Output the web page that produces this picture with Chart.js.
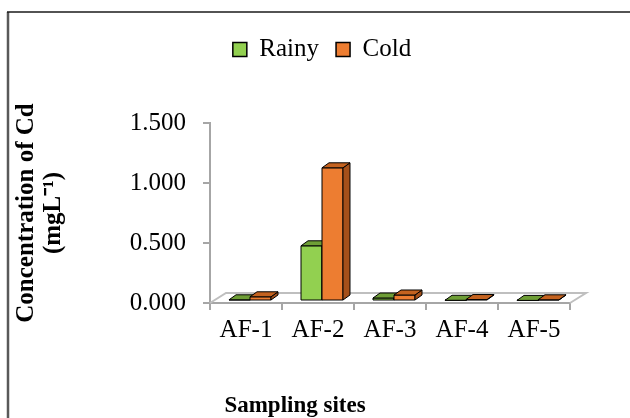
<!DOCTYPE html>
<html>
<head>
<meta charset="utf-8">
<script src="https://cdn.jsdelivr.net/npm/chart.js@4"></script>
<style>
  html, body { margin: 0; padding: 0; background: #fff; }
</style>
</head>
<body>
<canvas id="cdChart" width="630" height="418"></canvas>
<script>
const sites = ['AF-1', 'AF-2', 'AF-3', 'AF-4', 'AF-5'];
const rainy = [0.010, 0.460, 0.025, 0.006, 0.005];
const cold = [0.035, 1.110, 0.050, 0.012, 0.010];
const yMin = 0, yMax = 1.5, yStep = 0.5;

const serif = "'Liberation Serif', 'Times New Roman', serif";

// front / top / side colours of the 3d columns
const faces = [
  { front: '#92D050', top: '#6E9E36', side: '#5C8A2A' },
  { front: '#ED7D31', top: '#C4621F', side: '#A5501A' }
];
const DX = 7, DY = -5;       // column depth
const FDX = 16, FDY = -10;   // floor depth
const SHIFT = 4, LIFT = -2;  // columns sit half way into the floor

// outer frame of the figure
const frame = {
  id: 'frame',
  beforeDraw(chart) {
    const ctx = chart.ctx;
    ctx.save();
    ctx.strokeStyle = '#595959';
    ctx.lineWidth = 2.5;
    ctx.beginPath(); ctx.moveTo(8, 12); ctx.lineTo(8, 418); ctx.stroke();
    ctx.strokeStyle = '#1a1a1a';
    ctx.lineWidth = 1.5;
    ctx.beginPath(); ctx.moveTo(7, 12); ctx.lineTo(630, 12); ctx.stroke();
    ctx.restore();
  }
};

// legend is fixed in size and nudged over the plot, x title too
const boxes = {
  id: 'boxes',
  afterInit(chart) {
    const lg = chart.legend;
    const fit = lg.fit;
    lg.fit = function () { fit.call(this); this.height = 103; };
  },
  afterLayout(chart) {
    chart.legend.left += 37;
    chart.legend.right += 37;
    chart.titleBlock.left += 10;
    chart.titleBlock.right += 10;
  }
};

function drawColumn(ctx, el, f) {
  const { x, y, base, width } = el.getProps(['x', 'y', 'base', 'width'], true);
  const l = x - width / 2, r = x + width / 2;
  ctx.fillStyle = f.front;
  ctx.fillRect(l, y, width, base - y);
  ctx.strokeRect(l, y, width, base - y);
  ctx.fillStyle = f.side;
  ctx.beginPath();
  ctx.moveTo(r, base); ctx.lineTo(r + DX, base + DY);
  ctx.lineTo(r + DX, y + DY); ctx.lineTo(r, y);
  ctx.closePath(); ctx.fill(); ctx.stroke();
  ctx.fillStyle = f.top;
  ctx.beginPath();
  ctx.moveTo(l, y); ctx.lineTo(l + DX, y + DY);
  ctx.lineTo(r + DX, y + DY); ctx.lineTo(r, y);
  ctx.closePath(); ctx.fill(); ctx.stroke();
}

const threeD = {
  id: 'threeD',
  beforeDatasetsDraw(chart) {
    const ctx = chart.ctx;
    const a = chart.chartArea;
    ctx.save();
    ctx.strokeStyle = '#BFBFBF';
    ctx.lineWidth = 2;
    ctx.beginPath();
    ctx.moveTo(a.left, a.bottom);
    ctx.lineTo(a.left + FDX, a.bottom + FDY);
    ctx.lineTo(a.right + FDX, a.bottom + FDY);
    ctx.lineTo(a.right, a.bottom);
    ctx.stroke();
    ctx.restore();
    ctx.save();
    ctx.translate(SHIFT, LIFT);
  },
  afterDatasetsDraw(chart) {
    const ctx = chart.ctx;
    ctx.strokeStyle = '#000';
    ctx.lineWidth = 1;
    ctx.lineJoin = 'round';
    for (let i = 0; i < sites.length; i++) {
      chart.data.datasets.forEach((ds, d) => {
        drawColumn(ctx, chart.getDatasetMeta(d).data[i], faces[d]);
      });
    }
    ctx.restore();
  }
};

Chart.defaults.font.family = serif;
Chart.defaults.color = '#000';

new Chart(document.getElementById('cdChart'), {
  type: 'bar',
  data: {
    labels: sites,
    datasets: [
      { label: 'Rainy', data: rainy, backgroundColor: faces[0].front, borderColor: '#000', borderWidth: 1.5 },
      { label: 'Cold', data: cold, backgroundColor: faces[1].front, borderColor: '#000', borderWidth: 1.5 }
    ]
  },
  options: {
    responsive: false,
    animation: false,
    devicePixelRatio: 1,
    categoryPercentage: 0.583,
    barPercentage: 1,
    layout: { padding: { top: 20, left: 0, right: 60, bottom: 0 } },
    plugins: {
      tooltip: { enabled: false },
      legend: {
        position: 'top',
        labels: { font: { size: 25 }, boxWidth: 14, boxHeight: 14, padding: 17, color: '#000' }
      },
      title: {
        display: true, position: 'bottom', text: 'Sampling sites', color: '#000',
        font: { size: 23, weight: 'bold', lineHeight: 1 }, padding: { top: 0, bottom: 0 }
      }
    },
    scales: {
      x: {
        grid: { drawOnChartArea: false, drawTicks: true, tickLength: 7, color: '#A6A6A6', lineWidth: 2 },
        border: { color: '#A6A6A6', width: 2 },
        ticks: { font: { size: 25 }, padding: 5, color: '#000' },
        afterFit(s) { s.height = 92; }
      },
      y: {
        min: yMin, max: yMax,
        grid: { drawOnChartArea: false, drawTicks: true, tickLength: 7, color: '#A6A6A6', lineWidth: 2 },
        border: { color: '#A6A6A6', width: 2 },
        ticks: { stepSize: yStep, font: { size: 25 }, padding: 17, color: '#000',
                 callback: v => v.toFixed(3) },
        title: {
          display: true, text: ['Concentration of Cd', '(mgL\u207B\u00B9)'], color: '#000',
          font: { size: 25, weight: 'bold', lineHeight: 1.08 }, padding: { top: 13, bottom: 0 }
        },
        afterFit(s) { s.width = 210; }
      }
    }
  },
  plugins: [frame, boxes, threeD]
});
</script>
</body>
</html>
